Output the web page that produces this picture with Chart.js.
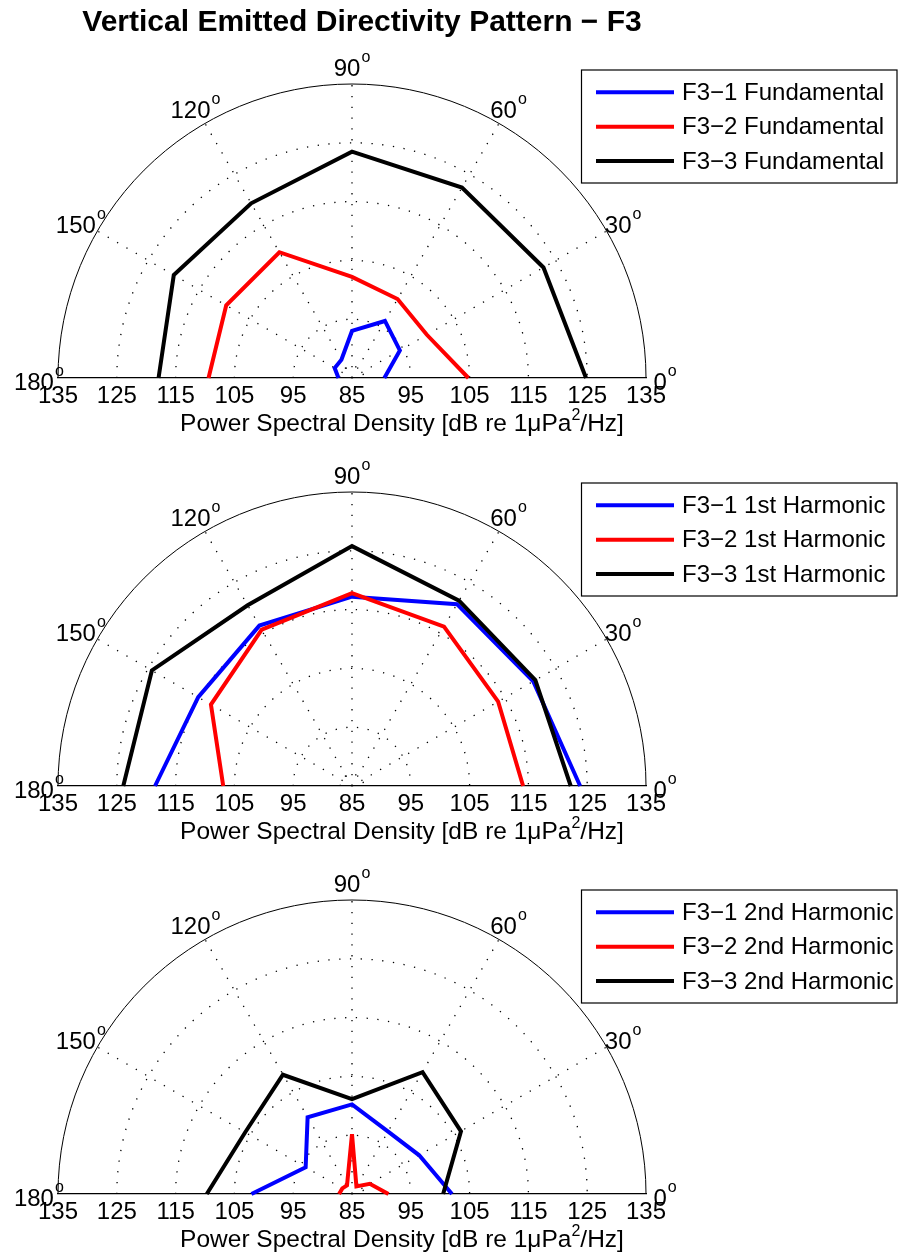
<!DOCTYPE html>
<html>
<head>
<meta charset="utf-8">
<title>Vertical Emitted Directivity Pattern - F3</title>
<script src="https://cdn.jsdelivr.net/npm/chart.js@4.4.1/dist/chart.umd.min.js"></script>
<style>
  body { margin: 0; background: #fff; }
  #wrap { position: relative; width: 898px; height: 1256px; overflow: hidden; }
  canvas { position: absolute; left: 0; }
</style>
</head>
<body>
<div id="wrap">
  <canvas id="c1" width="898" height="440" style="top:0px"></canvas>
  <canvas id="c2" width="898" height="440" style="top:408px"></canvas>
  <canvas id="c3" width="898" height="439" style="top:817px"></canvas>
</div>
<script>
// angles (deg) and dB values
var angles = [0, 30, 60, 90, 120, 150, 180];
var angleLabels = ['0', '30', '60', '90', '120', '150', '180'];
var xTickLabels = ['135', '125', '115', '105', '95', '85', '95', '105', '115', '125', '135'];
var rMin = 85;
var rMax = 135;
var gridRings = [87, 95, 105, 115, 125];

var fundF31 = [90.5, 94.4, 96.2, 93.0, 88.6, 88.4, 87.3];
var fundF32 = [104.8, 99.7, 100.5, 102.2, 109.7, 109.7, 109.4];
var fundF33 = [124.8, 122.6, 122.4, 123.5, 119.3, 120.0, 117.9];

var harm1F31 = [123.8, 120.6, 120.7, 117.2, 116.5, 115.2, 118.5];
var harm1F32 = [114.1, 113.7, 116.3, 117.8, 115.7, 112.7, 106.9];
var harm1F33 = [122.2, 121.0, 121.4, 125.8, 120.5, 124.3, 123.9];

var harm2F31 = [102.0, 98.2, 97.3, 100.3, 100.1, 94.1, 102.1];
var harm2F32 = [91.2, 88.5, 86.5, 95.2, 86.7, 86.9, 87.2];
var harm2F33 = [100.5, 106.4, 109.0, 101.2, 108.5, 106.0, 109.7];

var fundNames = ['F3\u22121 Fundamental', 'F3\u22122 Fundamental', 'F3\u22123 Fundamental'];
var harm1Names = ['F3\u22121 1st Harmonic', 'F3\u22122 1st Harmonic', 'F3\u22123 1st Harmonic'];
var harm2Names = ['F3\u22121 2nd Harmonic', 'F3\u22122 2nd Harmonic', 'F3\u22123 2nd Harmonic'];

var colors = ['#0000ff', '#ff0000', '#000000'];
var FONT = '"Liberation Sans", Arial, Helvetica, sans-serif';
Chart.defaults.font.family = FONT;

function toXY(vals) {
  var pts = [];
  for (var i = 0; i < angles.length; i++) {
    var a = angles[i] * Math.PI / 180;
    var r = vals[i] - rMin;
    pts.push({ x: r * Math.cos(a), y: r * Math.sin(a) });
  }
  return pts;
}

// grid, angle labels, legend, titles
var polarDeco = {
  id: 'polarDeco',
  beforeDatasetsDraw: function (chart) {
    var ctx = chart.ctx;
    var xs = chart.scales.x, ys = chart.scales.y;
    var cx = xs.getPixelForValue(0), cy = ys.getPixelForValue(0);
    var R = xs.getPixelForValue(rMax - rMin) - cx;
    ctx.save();
    ctx.strokeStyle = '#000';
    ctx.lineWidth = 1.3;
    ctx.setLineDash([1.3, 9.5]);
    for (var i = 0; i < gridRings.length; i++) {
      var rr = xs.getPixelForValue(gridRings[i] - rMin) - cx;
      ctx.beginPath();
      ctx.arc(cx, cy, rr, Math.PI, 2 * Math.PI);
      ctx.stroke();
    }
    for (var k = 1; k < angles.length - 1; k++) {
      var a = angles[k] * Math.PI / 180;
      ctx.beginPath();
      ctx.moveTo(cx, cy);
      ctx.lineTo(cx + R * Math.cos(a), cy - R * Math.sin(a));
      ctx.stroke();
    }
    ctx.setLineDash([]);
    ctx.lineWidth = 1;
    ctx.beginPath();
    ctx.arc(cx, cy, R, Math.PI, 2 * Math.PI);
    ctx.stroke();

    // angle labels with superscript o
    ctx.fillStyle = '#000';
    ctx.textAlign = 'left';
    ctx.textBaseline = 'alphabetic';
    var rl = R * 1.065;
    for (var j = 0; j < angleLabels.length; j++) {
      var b = angles[j] * Math.PI / 180;
      ctx.font = '24px ' + FONT;
      var w1 = ctx.measureText(angleLabels[j]).width;
      ctx.font = '16px ' + FONT;
      var w2 = ctx.measureText('o').width;
      var W = w1 + 1 + w2;
      var lx = cx + rl * Math.cos(b) - W / 2;
      var base = cy - rl * Math.sin(b) + 11.5;
      ctx.font = '24px ' + FONT;
      ctx.fillText(angleLabels[j], lx, base);
      ctx.font = '16px ' + FONT;
      ctx.fillText('o', lx + w1 + 1, base - 14);
    }
    ctx.restore();
  },
  afterDraw: function (chart, args, opts) {
    var ctx = chart.ctx;
    var ys = chart.scales.y;
    var cy = ys.getPixelForValue(0);
    ctx.save();
    ctx.fillStyle = '#000';
    ctx.textBaseline = 'alphabetic';
    ctx.textAlign = 'left';

    // x label with superscript 2
    var p1 = 'Power Spectral Density [dB re 1\u03bcPa', p2 = '2', p3 = '/Hz]';
    ctx.font = '24.5px ' + FONT;
    var a1 = ctx.measureText(p1).width, a3 = ctx.measureText(p3).width;
    ctx.font = '16px ' + FONT;
    var a2 = ctx.measureText(p2).width;
    var sx = 402 - (a1 + a2 + a3) / 2, by = cy + 53;
    ctx.font = '24.5px ' + FONT;
    ctx.fillText(p1, sx, by);
    ctx.fillText(p3, sx + a1 + a2, by);
    ctx.font = '16px ' + FONT;
    ctx.fillText(p2, sx + a1, by - 11);

    // legend
    var top = opts.legendTop;
    ctx.strokeStyle = '#000';
    ctx.lineWidth = 1.2;
    ctx.strokeRect(581.5, top, 315.5, 113);
    var ds = chart.data.datasets;
    ctx.font = '24px ' + FONT;
    ctx.textBaseline = 'middle';
    for (var i = 0; i < ds.length; i++) {
      var ly = top + 22.3 + i * 34.4;
      ctx.strokeStyle = ds[i].borderColor;
      ctx.lineWidth = 4;
      ctx.beginPath();
      ctx.moveTo(596, ly);
      ctx.lineTo(674, ly);
      ctx.stroke();
      ctx.fillText(ds[i].label, 682, ly + 1);
    }

    if (opts.title) {
      ctx.font = 'bold 30px ' + FONT;
      ctx.textAlign = 'center';
      ctx.textBaseline = 'middle';
      ctx.fillText(opts.title, 362, 23);
    }
    ctx.restore();
  }
};

function makePolar(id, series, names, legendTop, title) {
  var datasets = [];
  for (var i = 0; i < series.length; i++) {
    datasets.push({
      label: names[i],
      data: toXY(series[i]),
      borderColor: colors[i],
      backgroundColor: colors[i],
      borderWidth: 4,
      showLine: true,
      pointRadius: 0,
      tension: 0,
      fill: false,
      clip: false,
      order: series.length - i
    });
  }
  return new Chart(document.getElementById(id), {
    type: 'scatter',
    data: { datasets: datasets },
    options: {
      responsive: false,
      animation: false,
      events: [],
      layout: { padding: { left: 58, right: 252, top: 84, bottom: 32 } },
      plugins: {
        legend: { display: false },
        tooltip: { enabled: false },
        polarDeco: { legendTop: legendTop, title: title }
      },
      scales: {
        x: {
          type: 'linear',
          min: -(rMax - rMin),
          max: rMax - rMin,
          afterFit: function (s) { s.height = 30; },
          grid: { display: false },
          border: { display: true, color: '#000', width: 1.3 },
          ticks: {
            stepSize: 10,
            autoSkip: false,
            maxRotation: 0,
            padding: -4,
            color: '#000',
            font: { size: 24 },
            callback: function (v, idx) { return xTickLabels[idx]; }
          }
        },
        y: { display: false, min: 0, max: rMax - rMin }
      }
    },
    plugins: [polarDeco]
  });
}

makePolar('c1', [fundF31, fundF32, fundF33], fundNames, 70, 'Vertical Emitted Directivity Pattern \u2212 F3');
makePolar('c2', [harm1F31, harm1F32, harm1F33], harm1Names, 75, null);
makePolar('c3', [harm2F31, harm2F32, harm2F33], harm2Names, 73, null);
</script>
</body>
</html>
